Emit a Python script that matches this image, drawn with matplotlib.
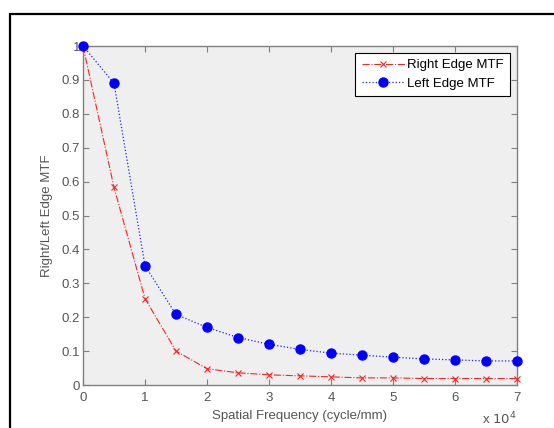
import numpy as np
import matplotlib.pyplot as plt
from matplotlib.patches import Rectangle

plt.rcParams['font.family'] = ['Liberation Sans', 'DejaVu Sans']

# spatial frequency in cycle/mm
freq = np.arange(0, 70001, 5000)
right_mtf = [1.0, 0.583, 0.255, 0.100, 0.048, 0.036, 0.030, 0.027,
             0.024, 0.021, 0.021, 0.019, 0.019, 0.019, 0.019]
left_mtf = [1.0, 0.890, 0.352, 0.208, 0.170, 0.140, 0.120, 0.105,
            0.094, 0.088, 0.082, 0.077, 0.074, 0.071, 0.071]
xticks = [0, 1, 2, 3, 4, 5, 6, 7]
yticks = [0, 0.1, 0.2, 0.3, 0.4, 0.5, 0.6, 0.7, 0.8, 0.9, 1]

W, H = 554, 428
fig = plt.figure(figsize=(W / 100, H / 100), dpi=100)
fig.patch.set_facecolor('white')

# outer black frame
fig.add_artist(Rectangle((10 / W, -0.1), 1.2, 1 - 14 / H + 0.1, transform=fig.transFigure,
                         fill=False, edgecolor='black', linewidth=1.6))

ax = fig.add_axes([83 / W, 1 - 385 / H, (517 - 83) / W, (385 - 46) / H])
ax.set_facecolor('#efefef')

xs = freq / 1e4
ax.plot(xs, right_mtf, color='#ff2020', linestyle='-.', linewidth=0.8, marker='x',
        markersize=4, markeredgewidth=0.8, label='Right Edge MTF', clip_on=False, zorder=3)
ax.plot(xs, left_mtf, color='#2020ff', linestyle=':', linewidth=0.9, marker='o',
        markersize=6.5, markerfacecolor='blue', markeredgecolor='blue',
        label='Left Edge MTF', clip_on=False, zorder=4)

ax.set_xlim(0, 7)
ax.set_ylim(0, 1)
ax.set_xticks(xticks)
ax.set_xticklabels([str(t) for t in xticks])
ax.set_yticks(yticks)
ax.set_yticklabels(['0'] + ['%g' % t for t in yticks[1:-1]] + ['1'])

gray = '#555555'
for s in ax.spines.values():
    s.set_color('#808080')
    s.set_linewidth(1.0)
ax.tick_params(axis='both', which='major', direction='in', length=4, width=0.8,
               colors='#808080', labelcolor=gray, labelsize=9.5, top=True, right=True, pad=2)
ax.tick_params(axis='x', pad=5)

ax.set_xlabel('Spatial Frequency (cycle/mm)', fontsize=9.5, color=gray, labelpad=4)
ax.set_ylabel('Right/Left Edge MTF', fontsize=9.5, color=gray, labelpad=6)
ax.text(1.0, -0.075, r'x $10^{4}$', transform=ax.transAxes, ha='right', va='top',
        fontsize=9.5, color=gray)

leg = ax.legend(loc='upper right', fontsize=9.5, fancybox=False, framealpha=1,
                edgecolor='black', borderpad=0.5, labelspacing=0.45, handlelength=3.3,
                handletextpad=0.15, borderaxespad=0.5)
leg.get_frame().set_linewidth(0.8)

fig.savefig('out.png', dpi=100)
